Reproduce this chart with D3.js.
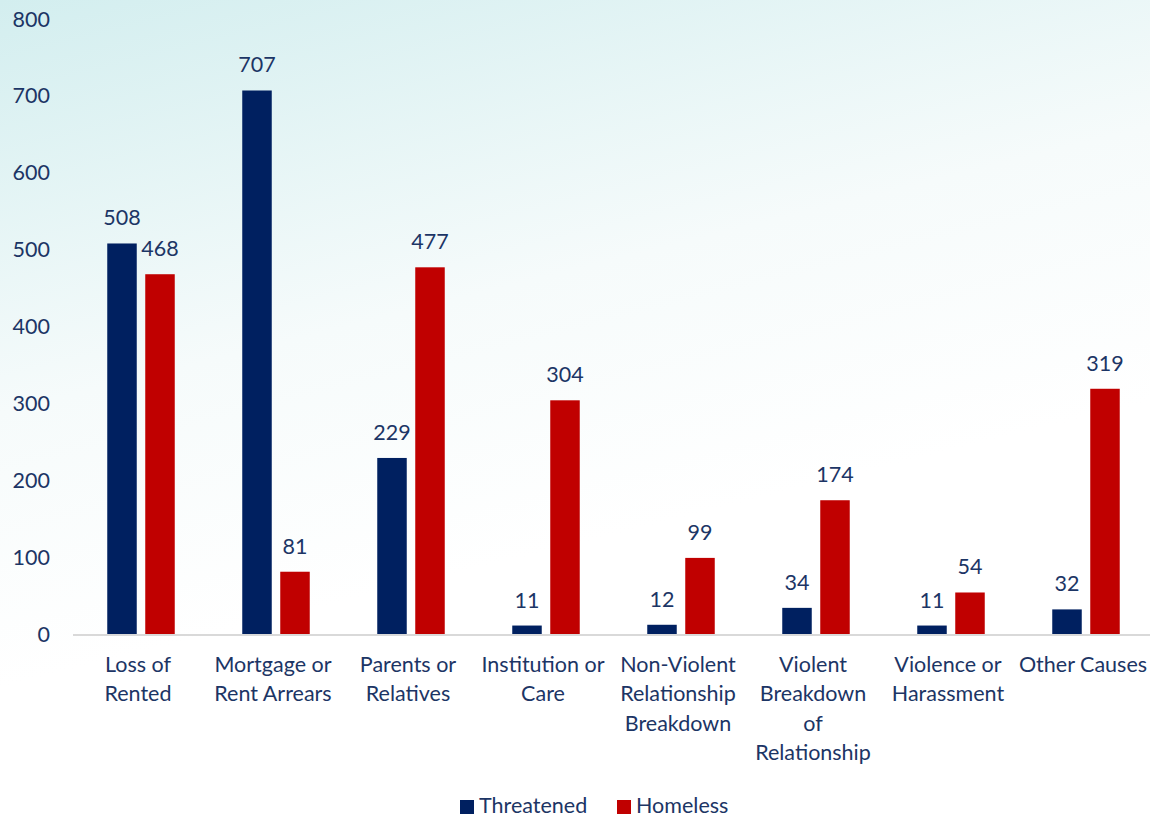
<!DOCTYPE html>
<html><head><meta charset="utf-8">
<script src="https://cdn.jsdelivr.net/npm/d3@7"></script>
<style>body{margin:0;background:#fff}svg{display:block}</style>
</head><body><svg id="c" width="1150" height="817"></svg>
<script>
const categories = [
  ["Loss of","Rented"],
  ["Mortgage or","Rent Arrears"],
  ["Parents or","Relatives"],
  ["Institution or","Care"],
  ["Non-Violent","Relationship","Breakdown"],
  ["Violent","Breakdown","of","Relationship"],
  ["Violence or","Harassment"],
  ["Other Causes"]
];
const threatened = [508, 707, 229, 11, 12, 34, 11, 32];
const homeless = [468, 81, 477, 304, 99, 174, 54, 319];
const seriesNames = ["Threatened", "Homeless"];
const seriesColors = ["#002060", "#c00000"];
const yTicks = [0, 100, 200, 300, 400, 500, 600, 700, 800];

const svg = d3.select("#c");
const W = 1150, H = 817;
const font = "Lato, 'Open Sans', sans-serif";
const fs = 21.5;
const textColor = "#1c3565";

const defs = svg.append("defs");
const g1 = defs.append("linearGradient").attr("id","bg").attr("x1","0").attr("y1","0").attr("x2","0.35").attr("y2","1");
g1.append("stop").attr("offset","0").attr("stop-color","#d3eeef");
g1.append("stop").attr("offset","0.45").attr("stop-color","#f6fbfb");
g1.append("stop").attr("offset","0.75").attr("stop-color","#ffffff");
svg.append("rect").attr("width",W).attr("height",H).attr("fill","url(#bg)");

const x0 = d3.scaleBand().domain(d3.range(categories.length)).range([73.5, 1153.5]).paddingInner(0).paddingOuter(0);
const y = d3.scaleLinear().domain([0, 800]).range([634, 19]);

// y tick labels
svg.append("g").selectAll("text").data(yTicks).join("text")
  .attr("x", 50).attr("y", d => y(d)).attr("dy", "0.35em")
  .attr("text-anchor","end").attr("font-family",font).attr("font-size",fs)
  .attr("fill",textColor).text(d => d);

// axis line
svg.append("line").attr("x1",73).attr("x2",1150).attr("y1",y(0)+1).attr("y2",y(0)+1)
  .attr("stroke","#d9d9d9").attr("stroke-width",2);

const barW = 29.5, gap = 8.5;
const series = [threatened, homeless];
series.forEach((vals, si) => {
  const gx = svg.append("g");
  const cx = i => x0(i) + x0.bandwidth()/2 + (si === 0 ? -(gap/2 + barW) : gap/2);
  gx.selectAll("rect").data(vals).join("rect")
    .attr("x", (d,i) => cx(i)).attr("width", barW)
    .attr("y", d => y(d)).attr("height", d => y(0) - y(d))
    .attr("fill", seriesColors[si]);
  gx.selectAll("text").data(vals).join("text")
    .attr("x", (d,i) => cx(i) + barW/2).attr("y", d => y(d) - 18)
    .attr("text-anchor","middle").attr("font-family",font).attr("font-size",fs)
    .attr("fill",textColor).text(d => d);
});

// category labels
const cl = svg.append("g");
categories.forEach((lines, i) => {
  const t = cl.append("text").attr("text-anchor","middle").attr("font-family",font)
    .attr("font-size",fs).attr("fill",textColor);
  lines.forEach((ln, k) => {
    t.append("tspan").attr("x", x0(i) + x0.bandwidth()/2 - 3).attr("y", 672 + k*29.3).text(ln);
  });
});

// legend
const leg = svg.append("g");
const legX = [460, 617];
seriesNames.forEach((n, i) => {
  leg.append("rect").attr("x", legX[i]).attr("y", 800).attr("width", 14).attr("height", 14).attr("fill", seriesColors[i]);
  leg.append("text").attr("x", legX[i] + 19).attr("y", 813).attr("font-family",font)
    .attr("font-size",fs).attr("fill",textColor).text(n);
});
</script></body></html>
